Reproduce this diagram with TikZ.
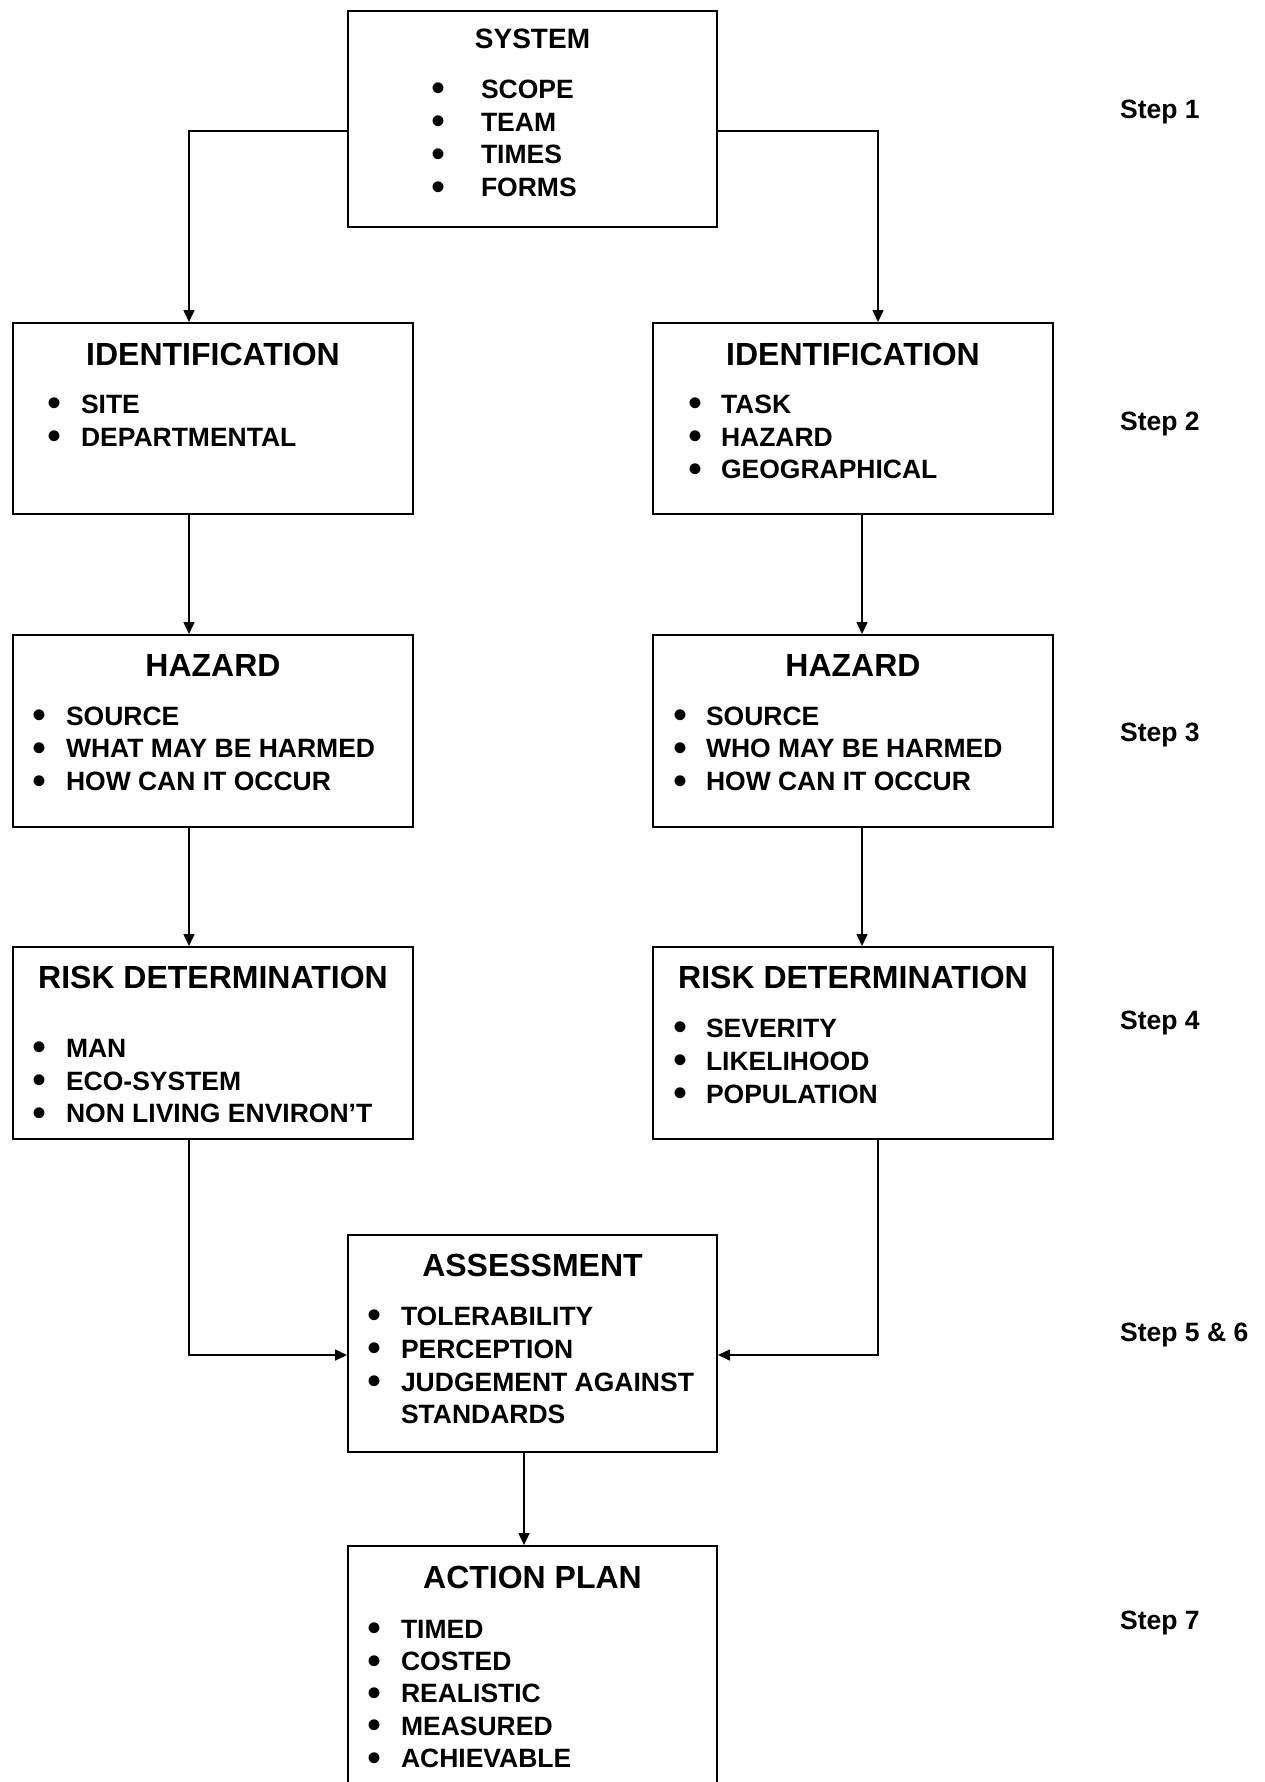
\documentclass[tikz,border=0pt]{standalone}
\usepackage{fontspec}
\setmainfont{Liberation Sans}
\usetikzlibrary{arrows.meta}
\tikzstyle{arrow} = [line width=1.6pt,-{Triangle[length=12pt,width=11pt]}]
\tikzstyle{stagebox} = [draw, line width=2pt, inner sep=0pt, anchor=north west]
\tikzstyle{steplabel} = [anchor=base west, inner sep=0pt, font=\itemfont]

\newcommand{\titlefont}{\fontsize{32}{32}\selectfont\bfseries}
\newcommand{\itemfont}{\fontsize{26.5}{26.5}\selectfont\bfseries}
\newcommand{\bulletmark}{\smash{\raisebox{-3.5pt}{\fontsize{40}{40}\selectfont\textbullet}}}
\newlength{\bulx}
\newlength{\txtx}
% one box: width, height, lines
\newcommand{\stage}[3]{\parbox[t][#2][t]{#1}{\offinterlineskip #3}}
% title line, item line, continued line (first arg = distance from previous baseline)
\newcommand{\ttl}[2]{\hbox to\hsize{\hfil\rule{0pt}{#1}{\titlefont #2}\hfil}}
\newcommand{\itm}[2]{\hbox to\hsize{\hspace*{\bulx}\makebox[0pt]{\bulletmark}\hspace*{\dimexpr\txtx-\bulx\relax}\rule{0pt}{#1}{\itemfont #2}\hfil}}
\newcommand{\cnt}[2]{\hbox to\hsize{\hspace*{\txtx}\rule{0pt}{#1}{\itemfont #2}\hfil}}

\begin{document}
\begin{tikzpicture}[x=1pt,y=1pt]
\useasboundingbox (0,0) rectangle (1265,-1782);

% Boxes
\node[stagebox] (sys) at (347,-10) {\stage{369pt}{216pt}{%
  \setlength{\bulx}{90.5pt}\setlength{\txtx}{133pt}%
  \ttl{38pt}{\fontsize{28}{28}\selectfont SYSTEM}
  \itm{49pt}{SCOPE}
  \itm{32.7pt}{TEAM}
  \itm{32.7pt}{TIMES}
  \itm{32.7pt}{FORMS}}};

\node[stagebox] (idl) at (12,-322) {\stage{400pt}{191pt}{%
  \setlength{\bulx}{42pt}\setlength{\txtx}{68pt}%
  \ttl{42pt}{IDENTIFICATION}
  \itm{48pt}{SITE}
  \itm{32.7pt}{DEPARTMENTAL}}};
\node[stagebox] (idr) at (652,-322) {\stage{400pt}{191pt}{%
  \setlength{\bulx}{42pt}\setlength{\txtx}{68pt}%
  \ttl{42pt}{IDENTIFICATION}
  \itm{48pt}{TASK}
  \itm{32.7pt}{HAZARD}
  \itm{32.7pt}{GEOGRAPHICAL}}};

\node[stagebox] (hzl) at (12,-634) {\stage{400pt}{192pt}{%
  \setlength{\bulx}{27pt}\setlength{\txtx}{53pt}%
  \ttl{41pt}{HAZARD}
  \itm{49pt}{SOURCE}
  \itm{32.7pt}{WHAT MAY BE HARMED}
  \itm{32.7pt}{HOW CAN IT OCCUR}}};
\node[stagebox] (hzr) at (652,-634) {\stage{400pt}{192pt}{%
  \setlength{\bulx}{27pt}\setlength{\txtx}{53pt}%
  \ttl{41pt}{HAZARD}
  \itm{49pt}{SOURCE}
  \itm{32.7pt}{WHO MAY BE HARMED}
  \itm{32.7pt}{HOW CAN IT OCCUR}}};

\node[stagebox] (rkl) at (12,-946) {\stage{400pt}{192pt}{%
  \setlength{\bulx}{27pt}\setlength{\txtx}{53pt}%
  \ttl{41pt}{RISK DETERMINATION}
  \itm{69pt}{MAN}
  \itm{32.7pt}{ECO-SYSTEM}
  \itm{32.7pt}{NON LIVING ENVIRON’T}}};
\node[stagebox] (rkr) at (652,-946) {\stage{400pt}{192pt}{%
  \setlength{\bulx}{27pt}\setlength{\txtx}{53pt}%
  \ttl{41pt}{RISK DETERMINATION}
  \itm{49pt}{SEVERITY}
  \itm{32.7pt}{LIKELIHOOD}
  \itm{32.7pt}{POPULATION}}};

\node[stagebox] (asm) at (347,-1234) {\stage{369pt}{217pt}{%
  \setlength{\bulx}{26pt}\setlength{\txtx}{53pt}%
  \ttl{41pt}{ASSESSMENT}
  \itm{49pt}{TOLERABILITY}
  \itm{32.7pt}{PERCEPTION}
  \itm{32.7pt}{JUDGEMENT AGAINST}
  \cnt{32pt}{STANDARDS}}};

\node[stagebox] (act) at (347,-1545) {\stage{369pt}{260pt}{%
  \setlength{\bulx}{26pt}\setlength{\txtx}{53pt}%
  \ttl{42pt}{ACTION PLAN}
  \itm{50pt}{TIMED}
  \itm{32.2pt}{COSTED}
  \itm{32.2pt}{REALISTIC}
  \itm{32.2pt}{MEASURED}
  \itm{32.2pt}{ACHIEVABLE}}};

% Step labels
\node[steplabel] (s1) at (1120,-118) {Step 1};
\node[steplabel] (s2) at (1120,-430) {Step 2};
\node[steplabel] (s3) at (1120,-741) {Step 3};
\node[steplabel] (s4) at (1120,-1029) {Step 4};
\node[steplabel] (s56) at (1120,-1341) {Step 5 \& 6};
\node[steplabel] (s7) at (1120,-1629) {Step 7};

% Arrows
\draw[arrow] ([yshift=-12pt]sys.west) -| ([xshift=-24pt]idl.north);
\draw[arrow] ([yshift=-12pt]sys.east) -| ([xshift=25pt]idr.north);
\draw[arrow] ([xshift=-24pt]idl.south) -- ([xshift=-24pt]hzl.north);
\draw[arrow] ([xshift=9pt]idr.south) -- ([xshift=9pt]hzr.north);
\draw[arrow] ([xshift=-24pt]hzl.south) -- ([xshift=-24pt]rkl.north);
\draw[arrow] ([xshift=9pt]hzr.south) -- ([xshift=9pt]rkr.north);
\draw[arrow] ([xshift=-24pt]rkl.south) |- ([yshift=-11.5pt]asm.west);
\draw[arrow] ([xshift=25pt]rkr.south) |- ([yshift=-11.5pt]asm.east);
\draw[arrow] ([xshift=-8.5pt]asm.south) -- ([xshift=-8.5pt]act.north);

\end{tikzpicture}
\end{document}
